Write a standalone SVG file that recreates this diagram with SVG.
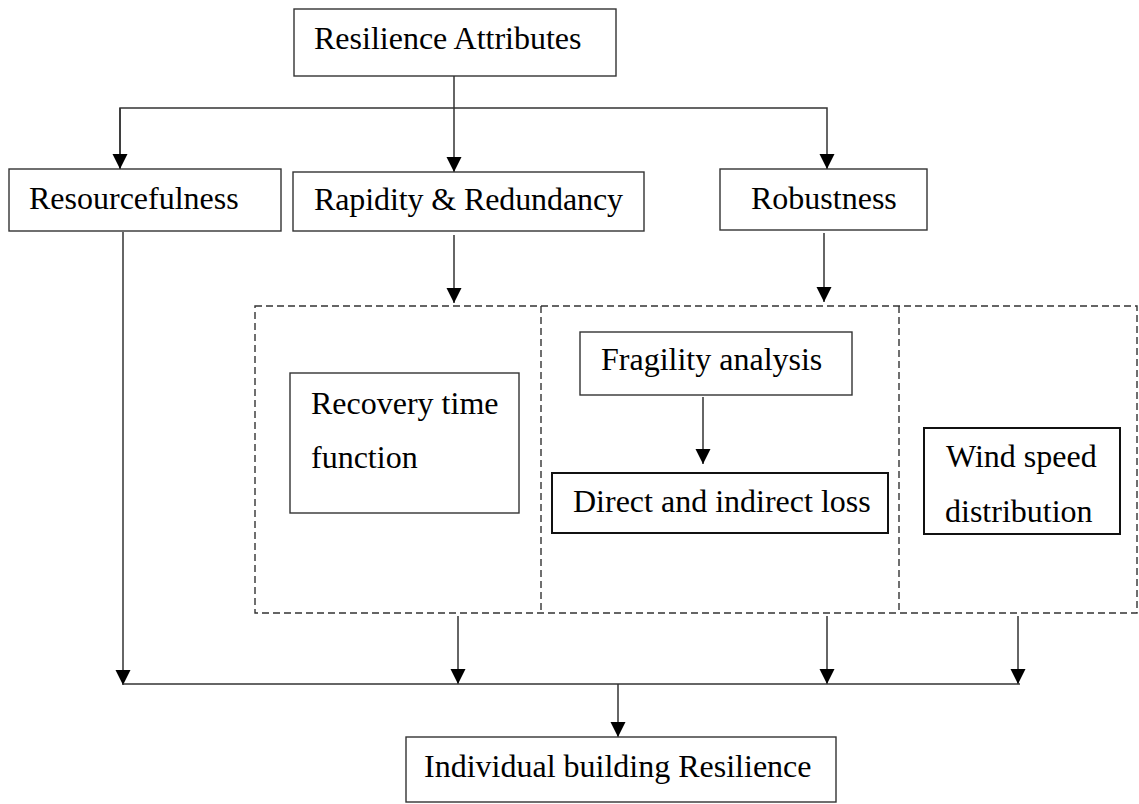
<svg xmlns="http://www.w3.org/2000/svg" width="1139" height="804" viewBox="0 0 1139 804">
<style>
.box{fill:#fff;stroke:#333;stroke-width:1.4}
.thick{fill:#fff;stroke:#111;stroke-width:2}
.dash{fill:none;stroke:#333;stroke-width:1.4;stroke-dasharray:7 4}
.ln{fill:none;stroke:#333;stroke-width:1.5}
text{font-family:"Liberation Serif","Times New Roman",serif;font-size:32px;fill:#000}
</style>
<defs>
<marker id="ah" markerUnits="userSpaceOnUse" markerWidth="16" markerHeight="16" refX="15" refY="7.5" orient="auto">
<path d="M0,0 L15,7.5 L0,15 z" fill="#000"/>
</marker>
</defs>
<rect width="1139" height="804" fill="#fff"/>
<g id="dashed-frame">
<rect class="dash" x="255" y="306" width="882" height="307"/>
<line class="dash" x1="541" y1="306" x2="541" y2="613"/>
<line class="dash" x1="899" y1="306" x2="899" y2="613"/>
</g>
<g id="connectors">
<line class="ln" x1="454" y1="76" x2="454" y2="172" marker-end="url(#ah)"/>
<polyline class="ln" points="120,169 120,108 827,108 827,169" marker-end="url(#ah)"/>
<line class="ln" x1="120" y1="108" x2="120" y2="169" marker-end="url(#ah)"/>
<line class="ln" x1="123" y1="232" x2="123" y2="685" marker-end="url(#ah)"/>
<line class="ln" x1="454" y1="235" x2="454" y2="303" marker-end="url(#ah)"/>
<line class="ln" x1="824" y1="233" x2="824" y2="302" marker-end="url(#ah)"/>
<line class="ln" x1="703" y1="397" x2="703" y2="464" marker-end="url(#ah)"/>
<line class="ln" x1="458" y1="616" x2="458" y2="684" marker-end="url(#ah)"/>
<line class="ln" x1="827" y1="616" x2="827" y2="684" marker-end="url(#ah)"/>
<line class="ln" x1="1018" y1="616" x2="1018" y2="684" marker-end="url(#ah)"/>
<line class="ln" x1="123" y1="684" x2="1020" y2="684"/>
<line class="ln" x1="618" y1="684" x2="618" y2="737" marker-end="url(#ah)"/>
</g>
<g id="resilience-attributes">
<rect class="box" x="294" y="9" width="322" height="67"/>
<text x="314" y="49">Resilience Attributes</text>
</g>
<g id="resourcefulness">
<rect class="box" x="9" y="169" width="272" height="62"/>
<text x="29" y="209">Resourcefulness</text>
</g>
<g id="rapidity-redundancy">
<rect class="box" x="293" y="172" width="351" height="59"/>
<text x="314" y="210" textLength="309" lengthAdjust="spacing">Rapidity &amp; Redundancy</text>
</g>
<g id="robustness">
<rect class="box" x="720" y="169" width="207" height="61"/>
<text x="751" y="209">Robustness</text>
</g>
<g id="recovery-time">
<rect class="box" x="290" y="373" width="229" height="140"/>
<text x="311" y="414">Recovery time</text>
<text x="311" y="468">function</text>
</g>
<g id="fragility-analysis">
<rect class="box" x="580" y="332" width="272" height="63"/>
<text x="601" y="370">Fragility analysis</text>
</g>
<g id="direct-indirect-loss">
<rect class="thick" x="552" y="473" width="336" height="60"/>
<text x="573" y="512">Direct and indirect loss</text>
</g>
<g id="wind-speed">
<rect class="thick" x="924" y="428" width="196" height="106"/>
<text x="946" y="467">Wind speed</text>
<text x="945" y="522">distribution</text>
</g>
<g id="individual-building-resilience">
<rect class="box" x="406" y="737" width="430" height="65"/>
<text x="424" y="777">Individual building Resilience</text>
</g>
</svg>
